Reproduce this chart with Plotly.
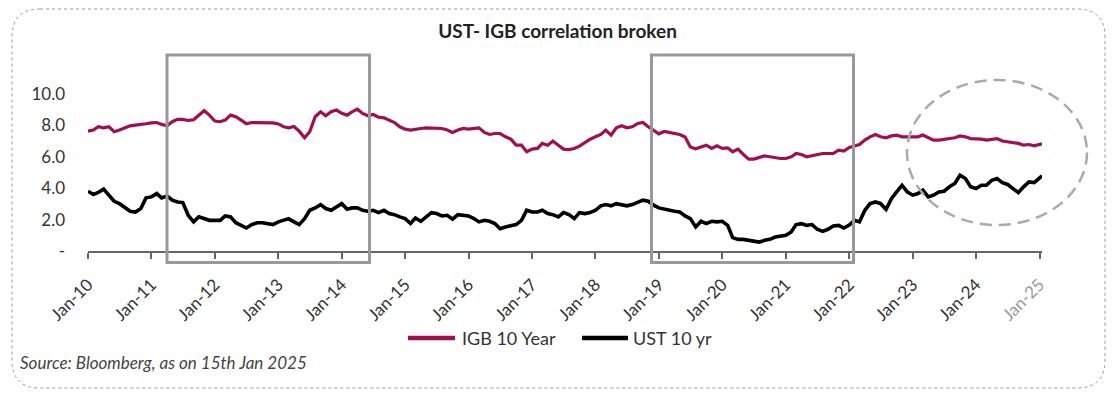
import pandas as pd
import plotly.graph_objects as go

# ---------------- data (monthly) ----------------
month_starts = pd.date_range("2010-01-01", "2025-01-01", freq="MS")
last_date = pd.Timestamp("2025-01-15")

igb_10y = [
    # 2010
    7.62, 7.69, 7.90, 7.83, 7.90, 7.58, 7.69, 7.83, 7.96, 8.00, 8.07, 8.09,
    # 2011
    8.15, 8.17, 8.05, 7.96, 8.22, 8.37, 8.37, 8.30, 8.34, 8.64, 8.92, 8.64,
    # 2012
    8.26, 8.22, 8.32, 8.64, 8.54, 8.32, 8.09, 8.17, 8.17, 8.15, 8.17, 8.15,
    # 2013
    8.08, 7.90, 7.83, 7.92, 7.62, 7.20, 7.58, 8.54, 8.85, 8.60, 8.85, 8.96,
    # 2014
    8.75, 8.64, 8.85, 9.02, 8.75, 8.60, 8.68, 8.51, 8.47, 8.32, 8.17, 7.90,
    # 2015
    7.75, 7.69, 7.75, 7.79, 7.83, 7.83, 7.83, 7.79, 7.69, 7.54, 7.69, 7.79,
    # 2016
    7.75, 7.79, 7.83, 7.54, 7.41, 7.47, 7.47, 7.26, 7.11, 6.73, 6.73, 6.31,
    # 2017
    6.48, 6.52, 6.84, 6.73, 6.99, 6.73, 6.48, 6.45, 6.52, 6.67, 6.90, 7.11,
    # 2018
    7.26, 7.41, 7.69, 7.37, 7.83, 7.96, 7.83, 7.90, 8.11, 8.17, 7.90, 7.69,
    # 2019
    7.45, 7.60, 7.55, 7.48, 7.41, 7.25, 6.62, 6.50, 6.62, 6.73, 6.52, 6.69,
    # 2020
    6.52, 6.56, 6.31, 6.48, 6.14, 5.84, 5.84, 5.92, 6.05, 5.99, 5.92, 5.88,
    # 2021
    5.88, 5.99, 6.20, 6.14, 5.99, 6.05, 6.14, 6.20, 6.20, 6.20, 6.41, 6.35,
    # 2022
    6.58, 6.69, 6.77, 7.05, 7.26, 7.41, 7.26, 7.20, 7.32, 7.37, 7.26, 7.26,
    # 2023
    7.26, 7.26, 7.37, 7.20, 7.05, 7.05, 7.11, 7.15, 7.20, 7.32, 7.26, 7.15,
    # 2024
    7.15, 7.11, 7.05, 7.11, 7.15, 6.99, 6.94, 6.90, 6.84, 6.73, 6.77, 6.69,
    # 2025 (Jan 1, Jan 15)
    6.77, 6.82,
]

ust_10y = [
    # 2010
    3.80, 3.59, 3.72, 3.93, 3.55, 3.16, 3.01, 2.74, 2.53, 2.48, 2.70, 3.38,
    # 2011
    3.44, 3.65, 3.38, 3.50, 3.23, 3.12, 3.08, 2.27, 1.85, 2.17, 2.06, 1.95,
    # 2012
    1.95, 1.95, 2.23, 2.17, 1.80, 1.63, 1.46, 1.68, 1.80, 1.80, 1.74, 1.68,
    # 2013
    1.85, 1.95, 2.06, 1.85, 1.68, 2.06, 2.59, 2.74, 2.95, 2.70, 2.59, 2.80,
    # 2014
    3.01, 2.65, 2.74, 2.74, 2.59, 2.53, 2.59, 2.44, 2.59, 2.38, 2.31, 2.17,
    # 2015
    2.06, 1.75, 2.10, 1.89, 2.17, 2.44, 2.38, 2.23, 2.27, 2.02, 2.31, 2.27,
    # 2016
    2.23, 2.06, 1.85, 1.95, 1.89, 1.74, 1.42, 1.53, 1.63, 1.68, 1.95, 2.59,
    # 2017
    2.48, 2.48, 2.59, 2.38, 2.31, 2.17, 2.44, 2.31, 2.06, 2.44, 2.38, 2.44,
    # 2018
    2.59, 2.87, 2.95, 2.87, 3.01, 2.95, 2.87, 2.95, 3.12, 3.23, 3.16, 2.91,
    # 2019
    2.74, 2.65, 2.59, 2.53, 2.48, 2.23, 2.06, 1.53, 1.89, 1.74, 1.89, 1.85,
    # 2020
    1.89, 1.63, 0.85, 0.74, 0.74, 0.68, 0.62, 0.57, 0.68, 0.74, 0.89, 0.96,
    # 2021
    1.00, 1.21, 1.68, 1.74, 1.63, 1.68, 1.38, 1.25, 1.38, 1.59, 1.63, 1.46,
    # 2022
    1.65, 1.95, 1.85, 2.59, 3.01, 3.12, 3.01, 2.65, 3.33, 3.76, 4.18, 3.76,
    # 2023
    3.55, 3.65, 3.86, 3.44, 3.55, 3.76, 3.80, 4.08, 4.29, 4.82, 4.61, 4.08,
    # 2024
    3.97, 4.18, 4.18, 4.50, 4.61, 4.35, 4.23, 3.97, 3.72, 4.08, 4.39, 4.35,
    # 2025 (Jan 1, Jan 15)
    4.65, 4.78,
]

dates = list(month_starts) + [last_date]

series_names = ["IGB 10 Year", "UST 10 yr"]
series_colors = ["#A20F50", "#000000"]

year_ticks = [pd.Timestamp(f"{y}-01-01") for y in range(2010, 2026)]
year_tick_labels = [f"Jan-{str(y)[2:]}" for y in range(2010, 2026)]
year_tick_labels[-1] = "<span style='color:#9a9a9a'>Jan-25</span>"

y_tick_values = [0, 2, 4, 6, 8, 10]
y_tick_labels = ["-", "2.0", "4.0", "6.0", "8.0", "10.0"]

title_text = "UST- IGB correlation broken"
source_text = "Source: Bloomberg, as on 15th Jan 2025"

# ---------------- layout geometry ----------------
# The page body has an 8px margin, so the figure is drawn 8px in from the
# window edge; all positions below are given in window pixels.
OFF = 8
PAGE_W, PAGE_H = 1117, 394
W, H = PAGE_W - OFF, PAGE_H - OFF
PLOT_L, PLOT_R, PLOT_T, PLOT_B = 88, 1042, 78, 251   # window pixels
ML, MT = PLOT_L - OFF, PLOT_T - OFF
MR, MB = W - (PLOT_R - OFF), H - (PLOT_B - OFF)
PW, PH = PLOT_R - PLOT_L, PLOT_B - PLOT_T


def px_x(px):
    return (px - PLOT_L) / PW


def px_y(py):
    return (PLOT_B - py) / PH


fig = go.Figure()
for name, vals, col, wid in zip(series_names, [igb_10y, ust_10y], series_colors, [3.2, 3.6]):
    fig.add_trace(go.Scatter(x=dates, y=vals, mode="lines", name=name,
                             line=dict(color=col, width=wid), showlegend=False))

shapes = []
# highlight rectangles
for (a, b) in [(167, 369.5), (651.5, 853.5)]:
    shapes.append(dict(type="rect", xref="paper", yref="paper",
                       x0=px_x(a), x1=px_x(b), y0=px_y(262.5), y1=px_y(55),
                       line=dict(color="#999999", width=3), fillcolor="rgba(0,0,0,0)"))
# dashed ellipse
shapes.append(dict(type="circle", xref="paper", yref="paper",
                   x0=px_x(907), x1=px_x(1087), y0=px_y(225), y1=px_y(80),
                   line=dict(color="#aaaaaa", width=2.5, dash="12px,7px")))
# rounded dotted border
x0, x1 = px_x(12), px_x(1105)
y0, y1 = px_y(388), px_y(9)
rx, ry = 28 / PW, 28 / PH
path = (f"M {x0+rx},{y1} L {x1-rx},{y1} Q {x1},{y1} {x1},{y1-ry} "
        f"L {x1},{y0+ry} Q {x1},{y0} {x1-rx},{y0} "
        f"L {x0+rx},{y0} Q {x0},{y0} {x0},{y0+ry} "
        f"L {x0},{y1-ry} Q {x0},{y1} {x0+rx},{y1} Z")
shapes.append(dict(type="path", xref="paper", yref="paper", path=path,
                   line=dict(color="#9a9a9a", width=1, dash="dot")))

# legend (drawn manually so that the key lines match the reference length)
legend_y = 338
legend_keys = [(408, 455, 460), (582, 628, 631)]
annotations = []
for (k0, k1, tx), name, col in zip(legend_keys, series_names, series_colors):
    shapes.append(dict(type="line", xref="paper", yref="paper",
                       x0=px_x(k0), x1=px_x(k1), y0=px_y(legend_y), y1=px_y(legend_y),
                       line=dict(color=col, width=4.5)))
    annotations.append(dict(text=name, xref="paper", yref="paper",
                            x=px_x(tx), y=px_y(legend_y), xanchor="left", yanchor="middle",
                            showarrow=False,
                            font=dict(family="Lato", size=18, color="#333333")))

annotations.append(dict(text=f"<i>{source_text}</i>", xref="paper", yref="paper",
                        x=px_x(18), y=px_y(362), xanchor="left", yanchor="middle",
                        showarrow=False,
                        font=dict(family="Lato", size=17, color="#444444")))

fig.update_layout(
    width=W, height=H,
    margin=dict(l=ML, r=MR, t=MT, b=MB),
    paper_bgcolor="white", plot_bgcolor="white",
    font=dict(family="Lato", color="#333333", size=16),
    title=dict(text=f"<b>{title_text}</b>", x=(557.5 - OFF) / W, xanchor="center",
               y=1 - (31.5 - OFF) / H, yanchor="middle", yref="container",
               font=dict(family="Lato", size=19, color="#222222")),
    showlegend=False,
    shapes=shapes,
    annotations=annotations,
)

fig.update_xaxes(range=[pd.Timestamp("2010-01-01"), last_date],
                 tickmode="array", tickvals=year_ticks, ticktext=year_tick_labels,
                 tickangle=-45, showgrid=False, zeroline=False,
                 showline=True, linecolor="#666666", linewidth=2,
                 ticks="outside", ticklen=6, tickwidth=2, tickcolor="#666666",
                 ticklabelstandoff=9,
                 tickfont=dict(family="Lato", size=17, color="#333333"))
fig.update_yaxes(range=[0, 11], tickmode="array", tickvals=y_tick_values,
                 ticktext=y_tick_labels, showgrid=False, zeroline=False,
                 showline=False, ticks="", ticklabelstandoff=22,
                 tickfont=dict(family="Lato", size=17, color="#333333"))

fig.write_html("out.html")
